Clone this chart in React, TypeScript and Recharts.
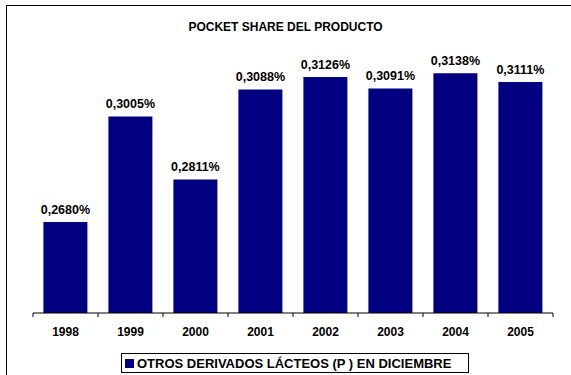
import React from 'react';
import { BarChart, Bar, XAxis, YAxis, LabelList } from 'recharts';

const years = ['1998', '1999', '2000', '2001', '2002', '2003', '2004', '2005'];
const pocketShare = [0.268, 0.3005, 0.2811, 0.3088, 0.3126, 0.3091, 0.3138, 0.3111];
const yDomain = [0.24, 0.32];

const chartData = years.map((year, i) => ({ year, value: pocketShare[i] }));

const FONT = 'Arial, "Liberation Sans", sans-serif';
const NAVY = '#000080';

// plot area: left 33, right 553 -> 8 bands of 65px
const MARGIN = { top: 53, right: 18, bottom: 32, left: 33 };
const BAND = (571 - MARGIN.left - MARGIN.right) / years.length;

const fmt = (v: number) => v.toFixed(4).replace('.', ',') + '%';

// Excel-style ticks sit between categories, not under them
const YearTick = (props: any) => {
  const { x, y, payload, index, visibleTicksCount } = props;
  const half = BAND / 2;
  const isLast = index === visibleTicksCount - 1;
  return (
    <g>
      <line x1={x - half} x2={x - half} y1={y} y2={y + 4} stroke="#000" />
      {isLast && <line x1={x + half} x2={x + half} y1={y} y2={y + 4} stroke="#000" />}
      <text x={x} y={y + 23} textAnchor="middle" fontFamily={FONT} fontSize={12} fontWeight="bold" fill="#000">
        {payload.value}
      </text>
    </g>
  );
};

export default function App() {
  return (
    <div style={{ position: 'absolute', left: 0, top: 0, width: 571, height: 375, background: '#fff', overflow: 'hidden', fontFamily: FONT }}>
      {/* chart frame, only top and left edges are in view */}
      <div style={{ position: 'absolute', left: 6, top: 5, width: 700, height: 500, borderLeft: '1px solid #000', borderTop: '1px solid #000' }} />
      <div style={{ position: 'absolute', left: 0, top: 20, width: 571, textAlign: 'center', fontSize: 12, fontWeight: 'bold', color: '#000' }}>
        POCKET SHARE DEL PRODUCTO
      </div>
      <div style={{ position: 'absolute', left: 0, top: 0 }}>
        <BarChart width={571} height={375} data={chartData} margin={MARGIN} barCategoryGap="16%">
          <YAxis hide domain={yDomain} allowDataOverflow />
          <XAxis
            dataKey="year"
            height={30}
            axisLine={{ stroke: '#000' }}
            tickLine={false}
            tickSize={0}
            tickMargin={0}
            interval={0}
            tick={<YearTick />}
          />
          <Bar dataKey="value" fill={NAVY} isAnimationActive={false}>
            <LabelList
              dataKey="value"
              position="top"
              offset={8}
              formatter={(v: any) => fmt(Number(v))}
              style={{ fontFamily: FONT, fontSize: 12.5, fontWeight: 'bold', fill: '#000' }}
            />
          </Bar>
        </BarChart>
      </div>
      {/* legend box */}
      <div style={{ position: 'absolute', left: 121, top: 353, width: 346, height: 18, border: '1px solid #000', display: 'flex', alignItems: 'center', fontSize: 13, fontWeight: 'bold', color: '#000', whiteSpace: 'nowrap' }}>
        <span style={{ display: 'inline-block', width: 9, height: 9, background: NAVY, marginLeft: 3, marginRight: 3 }} />
        OTROS DERIVADOS LÁCTEOS (P ) EN DICIEMBRE
      </div>
    </div>
  );
}
